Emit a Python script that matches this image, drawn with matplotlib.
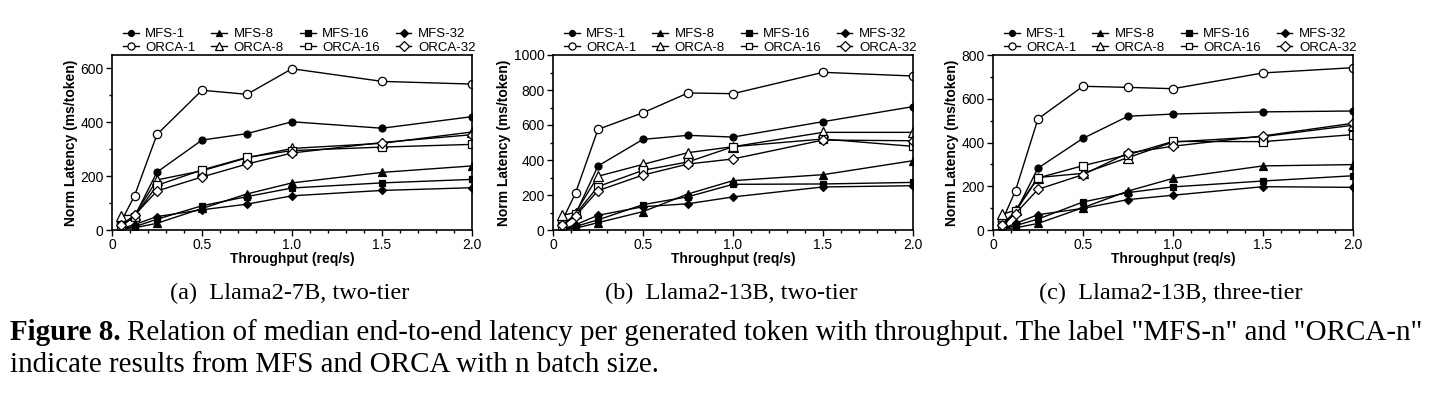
import matplotlib
matplotlib.use("Agg")
import matplotlib.pyplot as plt
from matplotlib.ticker import MultipleLocator

plt.rcParams['font.family'] = ['Liberation Sans', 'DejaVu Sans']

x = [0.05, 0.125, 0.25, 0.5, 0.75, 1.0, 1.5, 2.0]

# Panel (a) Llama2-7B, two-tier
a_mfs1 = [15, 50, 215, 334, 358, 402, 378, 421]
a_mfs8 = [5, 8, 25, 80, 134, 175, 214, 238]
a_mfs16 = [5, 12, 40, 90, 124, 156, 175, 188]
a_mfs32 = [5, 20, 50, 75, 96, 127, 147, 157]
a_orca1 = [30, 127, 355, 519, 504, 599, 552, 542]
a_orca8 = [53, 55, 186, 220, 268, 303, 322, 364]
a_orca16 = [15, 50, 166, 223, 270, 295, 308, 318]
a_orca32 = [18, 55, 145, 197, 245, 286, 325, 354]

# Panel (b) Llama2-13B, two-tier
b_mfs1 = [20, 90, 366, 518, 541, 531, 619, 705]
b_mfs8 = [5, 10, 42, 105, 206, 282, 316, 396]
b_mfs16 = [5, 20, 58, 145, 190, 261, 263, 272]
b_mfs32 = [5, 30, 84, 133, 150, 189, 246, 253]
b_orca1 = [50, 211, 575, 670, 783, 779, 901, 880]
b_orca8 = [84, 100, 307, 375, 442, 476, 558, 558]
b_orca16 = [25, 90, 248, 341, 389, 476, 520, 478]
b_orca32 = [30, 80, 225, 314, 377, 406, 514, 510]

# Panel (c) Llama2-13B, three-tier
c_mfs1 = [15, 80, 283, 419, 520, 530, 540, 544]
c_mfs8 = [5, 10, 30, 102, 178, 236, 293, 299]
c_mfs16 = [5, 20, 50, 128, 171, 197, 224, 248]
c_mfs32 = [5, 30, 70, 99, 139, 159, 198, 195]
c_orca1 = [40, 180, 508, 657, 652, 646, 718, 742]
c_orca8 = [72, 90, 240, 259, 331, 402, 427, 479]
c_orca16 = [25, 85, 238, 294, 344, 405, 404, 436]
c_orca32 = [25, 75, 186, 253, 352, 383, 430, 488]

labels = ["MFS-1", "MFS-8", "MFS-16", "MFS-32", "ORCA-1", "ORCA-8", "ORCA-16", "ORCA-32"]
markers = ["o", "^", "s", "D", "o", "^", "s", "D"]
msizes = [5, 5.5, 4.5, 4.5, 6, 6.5, 5.5, 5.5]
fills = ["k"] * 4 + ["white"] * 4

panels = [
    ([a_mfs1, a_mfs8, a_mfs16, a_mfs32, a_orca1, a_orca8, a_orca16, a_orca32], 650, 200, "(a)  Llama2-7B, two-tier"),
    ([b_mfs1, b_mfs8, b_mfs16, b_mfs32, b_orca1, b_orca8, b_orca16, b_orca32], 1000, 200, "(b)  Llama2-13B, two-tier"),
    ([c_mfs1, c_mfs8, c_mfs16, c_mfs32, c_orca1, c_orca8, c_orca16, c_orca32], 800, 200, "(c)  Llama2-13B, three-tier"),
]

serif = ["Liberation Serif", "DejaVu Serif"]
fig = plt.figure(figsize=(14.32, 4.09), dpi=100)
lefts = [112, 553, 993]
W, H = 1432, 409
for (series, ymax, ystep, cap), lp in zip(panels, lefts):
    ax = fig.add_axes([lp / W, 1 - 230 / H, 360 / W, 175 / H])
    handles = []
    for s, lab, m, ms, fc in zip(series, labels, markers, msizes, fills):
        h, = ax.plot(x, s, color="k", lw=1.0, marker=m, markersize=ms,
                     markerfacecolor=fc, markeredgecolor="k", markeredgewidth=0.9, label=lab)
        handles.append(h)
    ax.set_xlim(0, 2.0)
    ax.set_ylim(0, ymax)
    ax.xaxis.set_minor_locator(MultipleLocator(0.1))
    ax.yaxis.set_major_locator(MultipleLocator(ystep))
    ax.yaxis.set_minor_locator(MultipleLocator(ystep / 2))
    ax.set_xticks([0, 0.5, 1.0, 1.5, 2.0])
    ax.set_xticklabels(["0", "0.5", "1.0", "1.5", "2.0"])
    ax.tick_params(which="major", length=4, width=1, direction="out", labelsize=10, pad=2)
    ax.tick_params(which="minor", length=2.5, width=1, direction="out")
    for sp in ax.spines.values():
        sp.set_linewidth(1.2)
    ax.set_xlabel("Throughput (req/s)", fontsize=10, fontweight="bold", labelpad=0)
    ax.set_ylabel("Norm Latency (ms/token)", fontsize=10, fontweight="bold", labelpad=2)
    order = [0, 4, 1, 5, 2, 6, 3, 7]
    ax.legend([handles[i] for i in order], [labels[i] for i in order], ncol=4,
              loc="lower center", bbox_to_anchor=(0.52, 1.0), frameon=False,
              fontsize=9.5, handlelength=1.2, handletextpad=0.5, columnspacing=1.2,
              labelspacing=0.1, borderaxespad=0.0, borderpad=0.1, markerscale=0.85)
    fig.text((lp + 178) / W, 1 - 293 / H, cap, ha="center", va="center",
             fontsize=17.5, family=serif)

t1 = fig.text(10 / W, 1 - 333 / H, "Figure 8.", ha="left", va="center",
              fontsize=20.9, fontweight="bold", family=serif)
fig.canvas.draw()
bb = t1.get_window_extent()
fig.text((bb.x1 + 6) / W, 1 - 333 / H,
         'Relation of median end-to-end latency per generated token with throughput. The label "MFS-n" and "ORCA-n"',
         ha="left", va="center", fontsize=20.9, family=serif)
fig.text(10 / W, 1 - 365 / H, "indicate results from MFS and ORCA with n batch size.",
         ha="left", va="center", fontsize=20.9, family=serif)

fig.savefig("out.png", dpi=100)
